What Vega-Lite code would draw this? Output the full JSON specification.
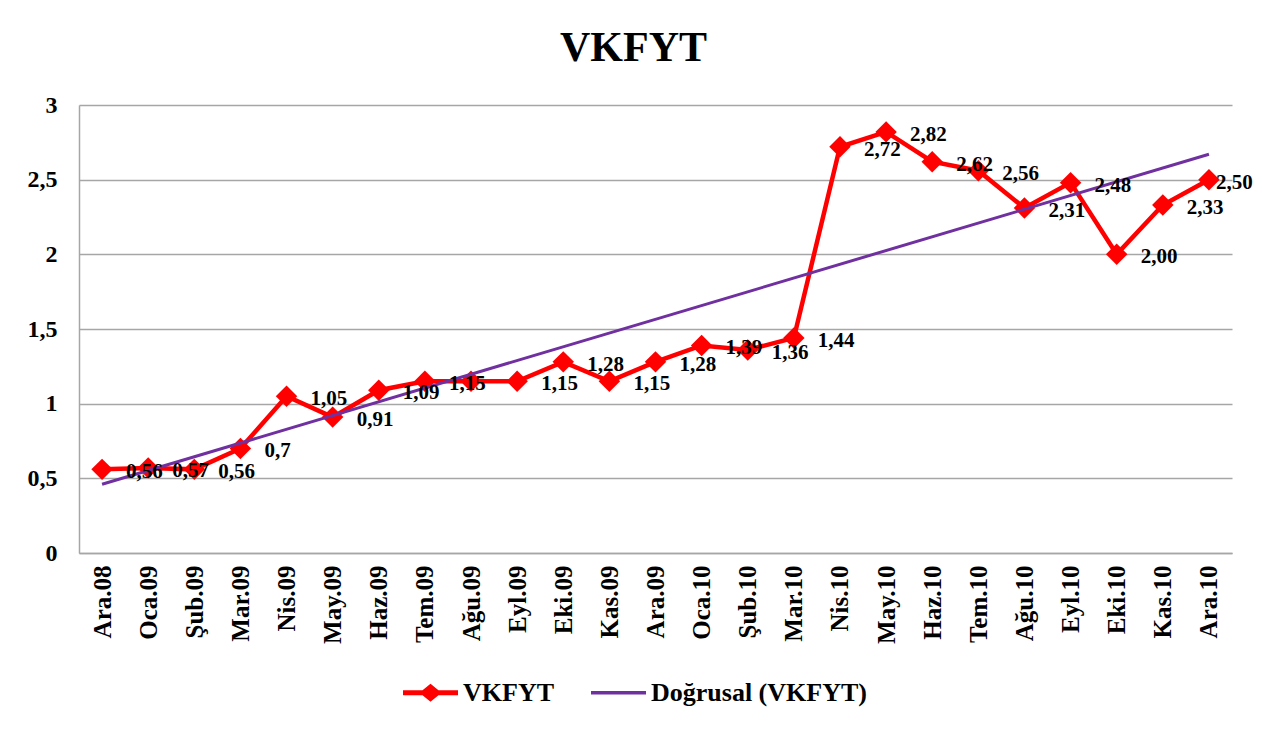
{
  "$schema": "https://vega.github.io/schema/vega-lite/v6.json",
  "width": 1153,
  "height": 448,
  "autosize": "none",
  "padding": {"left": 79, "top": 105, "right": 30, "bottom": 180},
  "background": "white",
  "title": {
    "text": "VKFYT",
    "font": "Times New Roman, Liberation Serif, serif",
    "fontSize": 42,
    "fontWeight": "bold",
    "color": "black",
    "anchor": "middle",
    "dx": -22,
    "offset": 23
  },
  "data": {
    "values": [
      {"month": "Ara.08", "series": "VKFYT", "value": 0.56, "label": "0,56"},
      {"month": "Oca.09", "series": "VKFYT", "value": 0.57, "label": "0,57"},
      {"month": "Şub.09", "series": "VKFYT", "value": 0.56, "label": "0,56"},
      {"month": "Mar.09", "series": "VKFYT", "value": 0.7, "label": "0,7"},
      {"month": "Nis.09", "series": "VKFYT", "value": 1.05, "label": "1,05"},
      {"month": "May.09", "series": "VKFYT", "value": 0.91, "label": "0,91"},
      {"month": "Haz.09", "series": "VKFYT", "value": 1.09, "label": "1,09"},
      {"month": "Tem.09", "series": "VKFYT", "value": 1.15, "label": "1,15"},
      {"month": "Ağu.09", "series": "VKFYT", "value": 1.15, "label": ""},
      {"month": "Eyl.09", "series": "VKFYT", "value": 1.15, "label": "1,15"},
      {"month": "Eki.09", "series": "VKFYT", "value": 1.28, "label": "1,28"},
      {"month": "Kas.09", "series": "VKFYT", "value": 1.15, "label": "1,15"},
      {"month": "Ara.09", "series": "VKFYT", "value": 1.28, "label": "1,28"},
      {"month": "Oca.10", "series": "VKFYT", "value": 1.39, "label": "1,39"},
      {"month": "Şub.10", "series": "VKFYT", "value": 1.36, "label": "1,36"},
      {"month": "Mar.10", "series": "VKFYT", "value": 1.44, "label": "1,44"},
      {"month": "Nis.10", "series": "VKFYT", "value": 2.72, "label": "2,72"},
      {"month": "May.10", "series": "VKFYT", "value": 2.82, "label": "2,82"},
      {"month": "Haz.10", "series": "VKFYT", "value": 2.62, "label": "2,62"},
      {"month": "Tem.10", "series": "VKFYT", "value": 2.56, "label": "2,56"},
      {"month": "Ağu.10", "series": "VKFYT", "value": 2.31, "label": "2,31"},
      {"month": "Eyl.10", "series": "VKFYT", "value": 2.48, "label": "2,48"},
      {"month": "Eki.10", "series": "VKFYT", "value": 2.0, "label": "2,00"},
      {"month": "Kas.10", "series": "VKFYT", "value": 2.33, "label": "2,33"},
      {"month": "Ara.10", "series": "VKFYT", "value": 2.5, "label": "2,50"},
      {"month": "Ara.08", "series": "Doğrusal (VKFYT)", "value": 0.46, "label": ""},
      {"month": "Ara.10", "series": "Doğrusal (VKFYT)", "value": 2.67, "label": ""}
    ]
  },
  "encoding": {
    "x": {
      "field": "month",
      "type": "ordinal",
      "sort": null,
      "scale": {
        "type": "point",
        "padding": 0.5,
        "domain": ["Ara.08","Oca.09","Şub.09","Mar.09","Nis.09","May.09","Haz.09","Tem.09","Ağu.09","Eyl.09","Eki.09","Kas.09","Ara.09","Oca.10","Şub.10","Mar.10","Nis.10","May.10","Haz.10","Tem.10","Ağu.10","Eyl.10","Eki.10","Kas.10","Ara.10"]
      },
      "axis": {
        "title": null,
        "labelAngle": -90,
        "labelFont": "Times New Roman, Liberation Serif, serif",
        "labelFontSize": 25,
        "labelFontWeight": "bold",
        "labelColor": "black",
        "labelPadding": 12,
        "ticks": false,
        "grid": false,
        "domainColor": "#a6a6a6",
        "domainWidth": 1.5
      }
    },
    "y": {
      "field": "value",
      "type": "quantitative",
      "scale": {"domain": [0, 3], "nice": false, "zero": true},
      "axis": {
        "title": null,
        "values": [0, 0.5, 1, 1.5, 2, 2.5, 3],
        "labelExpr": "replace(format(datum.value, '~g'), '.', ',')",
        "labelFont": "Times New Roman, Liberation Serif, serif",
        "labelFontSize": 24,
        "labelFontWeight": "bold",
        "labelColor": "black",
        "labelPadding": 22,
        "ticks": false,
        "gridColor": "#a6a6a6",
        "gridWidth": 1.5,
        "domainColor": "#a6a6a6",
        "domainWidth": 1.5
      }
    }
  },
  "layer": [
    {
      "transform": [{"filter": "datum.series === 'VKFYT'"}],
      "mark": {
        "type": "line",
        "strokeWidth": 4.5,
        "point": {"shape": "diamond", "size": 460, "filled": true, "opacity": 1}
      },
      "encoding": {
        "color": {
          "field": "series",
          "type": "nominal",
          "scale": {"domain": ["VKFYT", "Doğrusal (VKFYT)"], "range": ["#ff0000", "#7030a0"]},
          "legend": {
            "title": null,
            "orient": "none",
            "direction": "horizontal",
            "legendX": 324,
            "legendY": 560,
            "symbolSize": 3025,
            "labelFont": "Times New Roman, Liberation Serif, serif",
            "labelFontSize": 26,
            "labelFontWeight": "bold",
            "labelColor": "black",
            "labelLimit": 0,
            "labelOffset": 5,
            "columnPadding": 37,
            "encode": {
              "symbols": {
                "update": {
                  "shape": {"signal": "datum.value === 'VKFYT' ? 'M-1,-0.09H-0.29L0,-0.33L0.29,-0.09H1V0.09H0.29L0,0.33L-0.29,0.09H-1Z' : 'M-1,-0.06H1V0.06H-1Z'"},
                  "fill": {"scale": "color", "field": "value"},
                  "stroke": {"value": "transparent"},
                  "strokeWidth": {"value": 0}
                }
              }
            }
          }
        }
      }
    },
    {
      "transform": [{"filter": "datum.series !== 'VKFYT'"}],
      "mark": {"type": "line", "strokeWidth": 3},
      "encoding": {
        "color": {"field": "series", "type": "nominal"}
      }
    },
    {
      "transform": [{"filter": "datum.series === 'VKFYT' && datum.month !== 'Ara.10'"}],
      "mark": {
        "type": "text",
        "align": "left",
        "baseline": "middle",
        "dx": 24,
        "dy": 3,
        "font": "Times New Roman, Liberation Serif, serif",
        "fontSize": 21,
        "fontWeight": "bold",
        "color": "black"
      },
      "encoding": {"text": {"field": "label"}}
    },
    {
      "transform": [{"filter": "datum.series === 'VKFYT' && datum.month === 'Ara.10'"}],
      "mark": {
        "type": "text",
        "align": "left",
        "baseline": "middle",
        "dx": 7,
        "dy": 3,
        "font": "Times New Roman, Liberation Serif, serif",
        "fontSize": 21,
        "fontWeight": "bold",
        "color": "black"
      },
      "encoding": {"text": {"field": "label"}}
    }
  ],
  "config": {
    "view": {"stroke": null},
    "font": "Times New Roman, Liberation Serif, serif"
  }
}
